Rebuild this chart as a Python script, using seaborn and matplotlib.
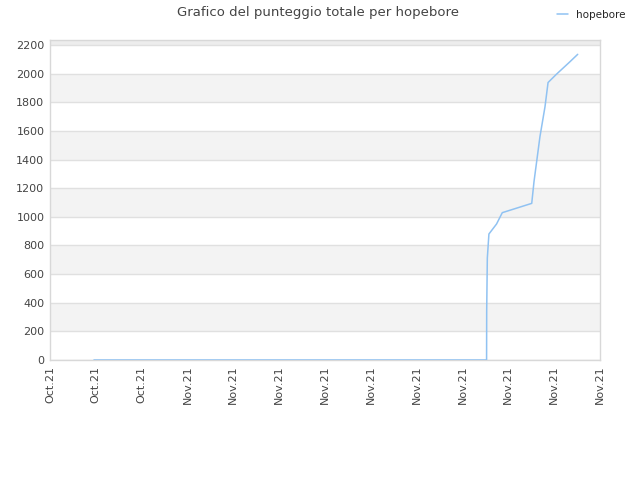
import matplotlib
matplotlib.use("Agg")
import matplotlib.pyplot as plt
import seaborn as sns
import pandas as pd
import numpy as np

sns.set_theme(style="white")
plt.rcParams['font.family'] = ['DejaVu Sans']

times = ["2021-10-26 21:00", "2021-11-21 13:50", "2021-11-21 14:00", "2021-11-21 15:00",
         "2021-11-21 17:30", "2021-11-22 05:30", "2021-11-22 14:30", "2021-11-24 12:45",
         "2021-11-24 16:20", "2021-11-25 01:40", "2021-11-25 09:36", "2021-11-25 14:24",
         "2021-11-26 03:50", "2021-11-27 00:45", "2021-11-27 13:00"]
scores = [0, 0, 342, 712, 880, 950, 1029, 1094, 1246, 1560, 1769, 1938, 1997, 2083, 2135]
tick_dates = ["2021-10-24", "2021-10-27", "2021-10-30", "2021-11-02", "2021-11-05",
              "2021-11-08", "2021-11-11", "2021-11-14", "2021-11-17", "2021-11-20",
              "2021-11-23", "2021-11-26", "2021-11-29"]
tick_labels = ["Oct.21"] * 3 + ["Nov.21"] * 10
yticks = [0, 200, 400, 600, 800, 1000, 1200, 1400, 1600, 1800, 2000, 2200]
series_name = "hopebore"

df = pd.DataFrame({"time": pd.to_datetime(times), "score": scores, "player": series_name})

fig = plt.figure(figsize=(6.4, 4.8), dpi=100)
ax = fig.add_axes([50/640, 120/480, 550/640, 320/480])

ymax = 2235
for i in range(len(yticks)):
    lo = yticks[i]
    hi = yticks[i + 1] if i + 1 < len(yticks) else ymax
    if i % 2 == 1 or i == len(yticks) - 1:
        ax.axhspan(lo, hi, color="#f3f3f3" if i < len(yticks) - 1 else "#ededed", zorder=0, lw=0)
for y in yticks:
    ax.axhline(y, color="#e0e0e0", lw=1, zorder=1)

sns.lineplot(data=df, x="time", y="score", hue="player", palette=["#90c2f2"],
             ax=ax, lw=1.1, zorder=3)

td = pd.to_datetime(tick_dates)
ax.set_xlim(td[0], td[-1])
ax.set_ylim(0, ymax)
ax.set_xticks(td)
ax.set_xticklabels(tick_labels, rotation=90, fontsize=8, color="#444444")
ax.set_yticks(yticks)
ax.set_yticklabels([str(v) for v in yticks], fontsize=8, color="#444444")
ax.tick_params(axis="both", length=0, pad=4)
ax.set_xlabel("")
ax.set_ylabel("")
for s in ax.spines.values():
    s.set_color("#d8d8d8")
    s.set_linewidth(1)

ax.legend(loc="upper right", bbox_to_anchor=(633/640, 0.995), bbox_transform=fig.transFigure,
          frameon=False, fontsize=7.5, handlelength=1.0, borderaxespad=0.3)
fig.text(0.497, 0.988, "Grafico del punteggio totale per hopebore", ha="center", va="top",
         fontsize=9.5, color="#444444")

fig.savefig("out.png", dpi=100)
